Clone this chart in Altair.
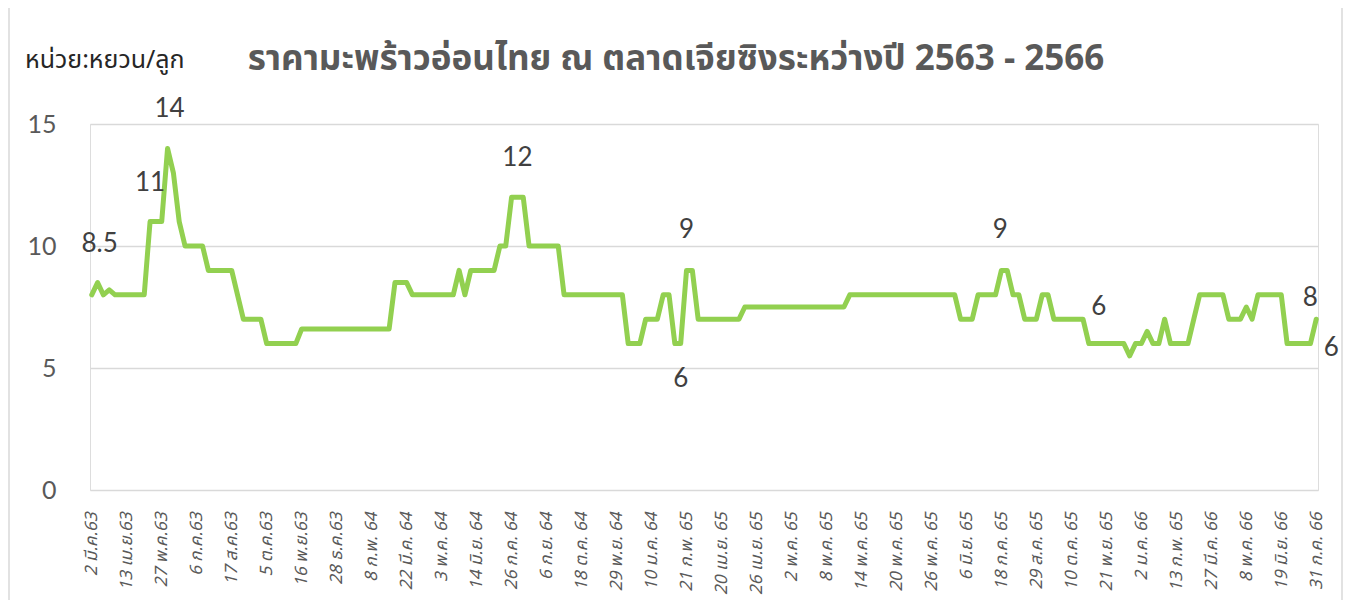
import json
import altair as alt
import pandas as pd

# Weekly-ish price series (yuan per coconut), index 0..210
values = (
    [8, 8.5, 8, 8.2, 8, 8, 8, 8, 8, 8, 11, 11, 11, 14, 13, 11, 10, 10, 10, 10,
     9, 9, 9, 9, 9, 8, 7, 7, 7, 7, 6, 6, 6, 6, 6, 6]
    + [6.6, 6.6, 6.6, 6.6, 6.6, 6.6, 6.6, 6.6, 6.6, 6.6, 6.6, 6.6, 6.6, 6.6, 6.6, 6.6]
    + [8.5, 8.5, 8.5, 8, 8, 8, 8, 8, 8, 8, 8, 9, 8, 9, 9, 9, 9, 9, 10, 10,
       12, 12, 12, 10, 10, 10, 10, 10, 10]
    + [8, 8, 8, 8, 8, 8, 8, 8, 8, 8, 8, 6, 6, 6, 7, 7, 7, 8, 8, 6, 6, 9, 9,
       7, 7, 7, 7, 7, 7, 7, 7]
    + [7.5, 7.5, 7.5, 7.5, 7.5, 7.5, 7.5, 7.5, 7.5, 7.5, 7.5, 7.5, 7.5, 7.5, 7.5, 7.5, 7.5, 7.5]
    + [8, 8, 8, 8, 8, 8, 8, 8, 8, 8, 8, 8, 8, 8, 8, 8, 8, 8, 8]
    + [7, 7, 7, 8, 8, 8, 8, 9, 9, 8, 8, 7, 7, 7, 8, 8, 7, 7, 7, 7, 7, 7]
    + [6, 6, 6, 6, 6, 6, 6, 5.5, 6, 6, 6.5, 6, 6, 7, 6, 6, 6, 6, 7, 8, 8, 8, 8, 8,
       7, 7, 7, 7.5, 7, 8, 8, 8, 8, 8, 6, 6, 6, 6, 6, 7]
)
assert len(values) == 211

tick_labels = [
    "2 มี.ค.63", "13 เม.ย.63", "27 พ.ค.63", "6 ก.ค.63", "17 ส.ค.63", "5 ต.ค.63",
    "16 พ.ย.63", "28 ธ.ค.63", "8 ก.พ. 64", "22 มี.ค. 64", "3 พ.ค. 64", "14 มิ.ย. 64",
    "26 ก.ค. 64", "6 ก.ย. 64", "18 ต.ค. 64", "29 พ.ย. 64", "10 ม.ค. 64", "21 ก.พ. 65",
    "20 เม.ย. 65", "26 เม.ย. 65", "2 พ.ค. 65", "8 พ.ค. 65", "14 พ.ค. 65", "20 พ.ค. 65",
    "26 พ.ค. 65", "6 มิ.ย. 65", "18 ก.ค. 65", "29 ส.ค. 65", "10 ต.ค. 65", "21 พ.ย. 65",
    "2 ม.ค. 66", "13 ก.พ. 65", "27 มี.ค. 66", "8 พ.ค. 66", "19 มิ.ย. 66", "31 ก.ค. 66",
]
label_step = 6

# Data-label annotations: point index, text, pixel offset
ann_index = [1, 10, 13, 73, 102, 101, 156, 171, 210, 210]
ann_text = ["8.5", "11", "14", "12", "9", "6", "9", "6", "8", "6"]
ann_dx = [2, 0, 2, 0, 0, 0, -1, 10, -6, 15]
ann_dy = [-39, -39, -39, -39, -40, 35, -40, -37, -21, 29]

title_text = "ราคามะพร้าวอ่อนไทย ณ ตลาดเจียซิงระหว่างปี 2563 - 2566"
unit_text = "หน่วย:หยวน/ลูก"

FONT = "Lato, 'Noto Sans', 'DejaVu Sans', sans-serif"
THAI_FONT = "'Noto Sans Thai', Tahoma, 'Noto Sans', 'DejaVu Sans', sans-serif"

df = pd.DataFrame({"i": list(range(len(values))), "price": values})

label_expr = (
    "[" + ",".join(json.dumps(s, ensure_ascii=False) for s in tick_labels) + "]"
    + f"[round(datum.value/{label_step})]"
)

x_enc = alt.X(
    "i:Q",
    scale=alt.Scale(domain=[-0.3, 210.3], nice=False, zero=False),
    axis=alt.Axis(
        values=list(range(0, len(values), label_step)),
        labelExpr=label_expr,
        labelAngle=270,
        labelFontStyle="italic",
        labelFontSize=17,
        labelColor="#595959",
        labelFont=THAI_FONT,
        labelPadding=22,
        labelOverlap=False,
        labelFlush=False,
        labelBound=False,
        ticks=False,
        domain=False,
        grid=False,
        title=None,
    ),
)
y_enc = alt.Y(
    "price:Q",
    scale=alt.Scale(domain=[0, 15], nice=False),
    axis=alt.Axis(
        values=[0, 5, 10, 15],
        grid=True,
        gridColor="#d9d9d9",
        gridWidth=1.5,
        domain=False,
        ticks=False,
        labelFontSize=25,
        labelColor="#595959",
        labelFont=FONT,
        labelPadding=34,
        title=None,
    ),
)

line = alt.Chart(df).mark_line(
    color="#92d050", strokeWidth=5, strokeJoin="round", strokeCap="round"
).encode(x=x_enc, y=y_enc)

ann_layers = []
for idx, txt, dx, dy in zip(ann_index, ann_text, ann_dx, ann_dy):
    adf = pd.DataFrame({"i": [idx], "price": [values[idx]], "t": [txt]})
    ann_layers.append(
        alt.Chart(adf).mark_text(
            dx=dx, dy=dy, fontSize=26, color="#404040", font=FONT,
            align="center", baseline="middle",
        ).encode(x=x_enc, y=y_enc, text="t:N")
    )

title_layer = alt.Chart(pd.DataFrame({"t": [title_text]})).mark_text(
    fontSize=35, fontWeight="bold", color="#595959", font=THAI_FONT,
    align="center", baseline="middle",
).encode(x=alt.value(586), y=alt.value(-65), text="t:N")

unit_layer = alt.Chart(pd.DataFrame({"t": [unit_text]})).mark_text(
    fontSize=25, color="#262626", font=THAI_FONT,
    align="left", baseline="middle",
).encode(x=alt.value(-65), y=alt.value(-64), text="t:N")

# light chart-area border (left and right edges)
border = alt.Chart(pd.DataFrame({"b": [0]})).mark_rect(
    fill=None, stroke="#d9d9d9", strokeWidth=1.5
).encode(x=alt.value(-81), x2=alt.value(1252), y=alt.value(-125), y2=alt.value(500))

chart = alt.layer(border, line, *ann_layers, title_layer, unit_layer).properties(
    width=1228,
    height=366,
    autosize=alt.AutoSizeParams(type="none"),
    padding={"left": 82, "top": 116, "right": 25, "bottom": 110},
).configure_view(stroke=None).configure_axisX(labelOverlap=False).configure(
    background="white"
)

chart.save("out.html", embed_options={"renderer": "svg", "actions": False})
